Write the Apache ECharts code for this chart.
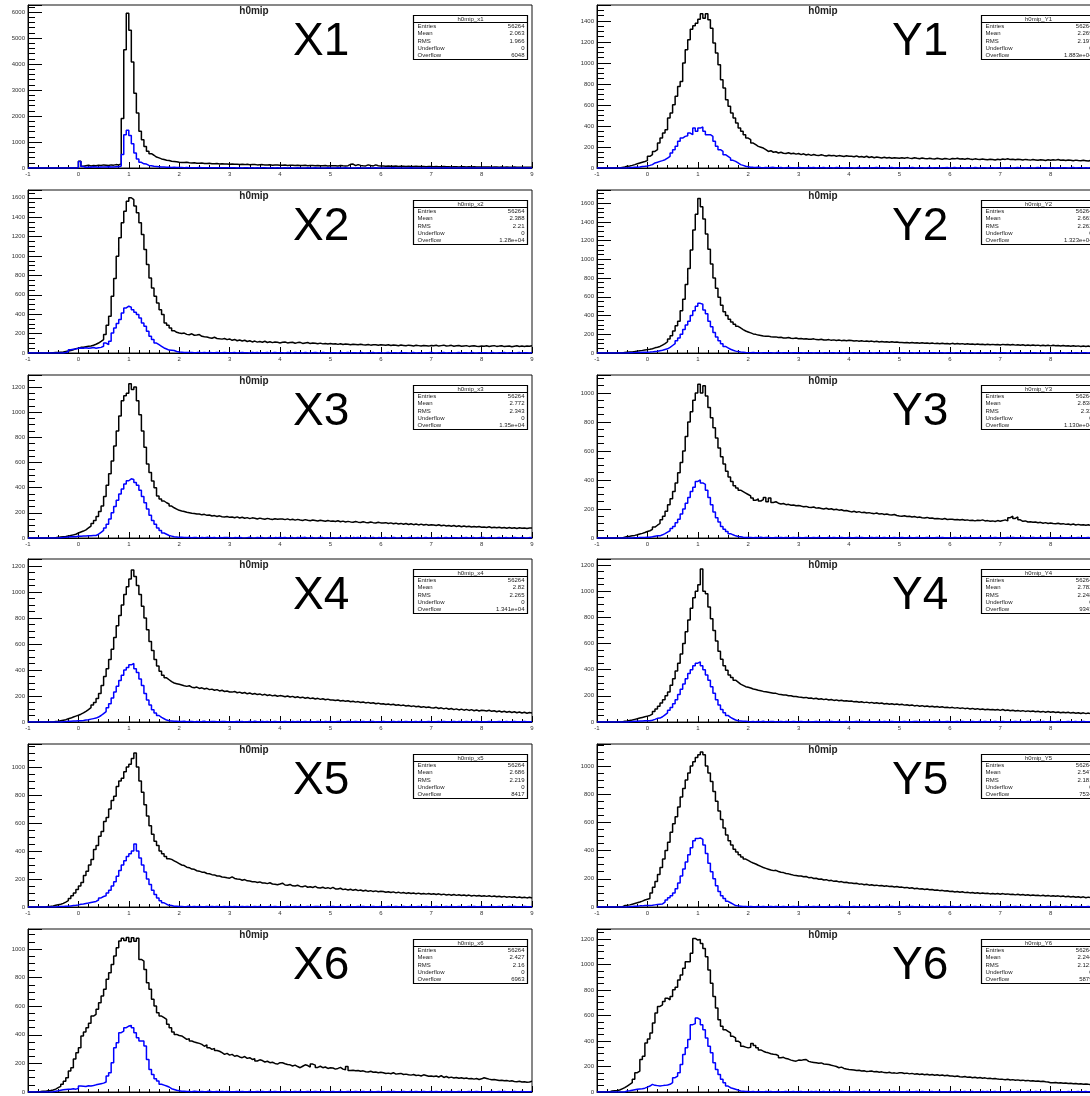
<!DOCTYPE html>
<html>
<head>
<meta charset="utf-8">
<script src="https://cdn.jsdelivr.net/npm/echarts@6/dist/echarts.min.js"></script>
<style>
html,body{margin:0;padding:0;background:#fff;}
#main{width:1090px;height:1096px;}
</style>
</head>
<body>
<div id="main"></div>
<script>
// h0mip distributions, 200 bins of width 0.05 on [-1, 9]
const binLow = -1;
const binWidth = 0.05;

const panelNames = ['X1','X2','X3','X4','X5','X6','Y1','Y2','Y3','Y4','Y5','Y6'];
const histNames = ['h0mip_x1','h0mip_x2','h0mip_x3','h0mip_x4','h0mip_x5','h0mip_x6',
                   'h0mip_Y1','h0mip_Y2','h0mip_Y3','h0mip_Y4','h0mip_Y5','h0mip_Y6'];
const statEntries = ['56264','56264','56264','56264','56264','56264','56264','56264','56264','56264','56264','56264'];
const statMean = ['2.063','2.388','2.772','2.82','2.686','2.427','2.269','2.663','2.838','2.782','2.547','2.244'];
const statRms = ['1.966','2.21','2.343','2.265','2.219','2.16','2.197','2.262','2.32','2.248','2.181','2.121'];
const statUnderflow = ['0','0','0','0','0','0','0','0','0','0','0','0'];
const statOverflow = ['6048','1.28e+04','1.35e+04','1.341e+04','8417','6963','1.883e+04','1.323e+04','1.130e+04','9343','7534','5879'];

// y ranges and label steps
const yMax = [6270,1680,1295,1254,1164,1140,1552,1740,1124,1246,1156,1278];
const yStep = [1000,200,200,200,200,200,200,200,200,200,200,200];
const yMinor = [5,4,4,4,4,4,4,4,4,4,4,4];

const x1Black = [
0,0,0,0,0,0,0,0,0,0,0,0,0,0,0,0,0,0,0,5,
260,70,90,110,80,100,90,110,100,120,110,100,120,110,130,120,160,1900,4550,5950,
5300,4080,2880,2120,1410,1090,830,640,550,490,420,390,350,330,300,290,260,250,240,225,
215,210,220,200,190,205,185,180,190,175,170,180,165,160,170,155,160,150,155,145,
150,140,145,135,140,130,145,125,130,135,120,125,130,115,120,125,110,115,120,110,
105,115,100,110,105,95,110,100,95,105,90,100,95,85,100,90,85,95,80,90,
85,90,80,95,85,80,90,140,150,90,130,100,85,80,120,95,80,120,90,75,
80,70,75,65,70,75,60,70,65,60,70,55,60,65,55,60,55,50,60,55,
50,55,45,50,55,45,50,40,50,45,40,50,45,40,45,35,45,40,35,40,
40,35,40,30,35,40,30,35,30,35,30,25,35,30,25,30,25,30,25,30];
const x1Blue = [
0,0,0,0,0,0,0,0,0,0,0,0,0,0,0,0,0,0,0,10,
250,60,20,40,30,50,40,30,40,35,40,45,35,40,50,45,80,520,1280,1450,
1250,930,580,350,220,160,150,100,90,70,60,50,40,35,30,25,20,25,15,20,
15,10,15,10,12,8,10,15,8,10,6,12,8,5,10,6,8,5,10,6,
5,8,4,6,3,7,5,2,6,4,8,3,5,6,2,4,7,3,5,4,
3,5,2,6,4,1,5,3,2,4,6,2,3,5,1,4,2,3,6,2,
4,2,5,1,3,6,2,4,3,1,5,2,4,3,6,1,2,5,3,2,
2,4,1,3,5,2,3,1,4,2,3,5,1,2,4,3,1,2,5,3,
3,1,2,4,2,5,1,3,2,4,1,3,2,1,4,2,3,1,2,3,
1,3,2,2,4,1,2,3,1,2,4,1,3,2,1,3,2,4,1,2];

const x2Black = [
0,0,0,0,0,0,0,0,0,3,5,4,8,10,15,20,25,34,45,50,
58,60,65,70,72,80,90,103,120,138,190,285,378,585,767,998,1187,1342,1462,1565,
1600,1580,1514,1445,1342,1221,1066,912,774,671,585,516,447,396,310,285,258,230,213,206,
200,205,192,188,198,183,185,190,172,168,165,158,152,162,150,146,143,150,138,145,
131,140,126,134,124,131,119,126,114,123,112,118,111,121,108,116,107,113,110,104,
110,113,104,108,111,101,107,110,99,104,108,97,103,100,95,102,94,98,93,97,
92,96,89,96,87,92,90,85,91,88,84,90,86,83,88,81,86,84,79,85,
82,79,85,77,82,80,75,82,78,74,81,77,73,79,76,72,78,75,71,77,
74,79,71,76,81,72,75,79,70,74,77,69,73,76,68,72,75,70,67,72,
70,74,67,72,76,68,71,75,66,70,73,65,70,74,67,71,68,73,70,75];
const x2Blue = [
0,0,0,0,0,0,0,0,0,0,0,0,0,0,5,12,34,38,42,48,
52,50,55,48,52,56,50,54,58,69,103,86,120,206,258,303,344,413,464,482,
471,447,420,396,361,310,275,224,172,138,103,86,69,52,41,30,28,26,15,10,
8,5,6,4,5,3,4,6,2,4,3,5,2,3,4,2,3,5,2,3,
2,4,1,3,5,2,3,1,4,2,6,1,3,2,4,1,2,5,3,2,
3,1,4,2,1,5,2,3,1,4,2,1,3,5,2,1,4,2,3,1,
2,3,1,4,2,3,5,1,2,3,1,4,2,1,3,2,4,1,2,3,
1,2,4,1,3,2,1,5,2,3,1,2,4,1,3,2,1,3,2,4,
2,1,3,2,4,1,2,3,1,2,5,1,3,2,1,4,2,1,3,2,
3,2,1,4,2,1,3,2,4,1,2,3,1,2,4,1,3,2,1,3];

const x3Black = [
0,0,0,0,0,0,0,0,0,0,3,5,8,10,12,15,20,25,30,40,
48,55,65,80,95,115,140,170,210,254,330,420,510,612,730,850,970,1090,1130,1150,
1225,1180,1200,1090,980,850,720,588,520,453,400,334,310,294,280,270,254,240,230,220,
215,211,204,201,197,195,190,191,184,188,180,183,175,178,171,176,169,167,171,164,
167,161,168,159,165,157,162,154,160,157,151,158,153,149,156,151,147,153,149,151,
151,146,152,144,149,142,148,143,139,146,141,137,143,139,135,141,137,133,139,134,
135,131,137,129,134,127,132,128,125,131,126,123,129,124,121,127,122,119,125,120,
119,122,115,120,113,118,111,116,109,115,107,113,106,111,104,110,103,108,102,106,
103,99,105,97,102,95,100,94,99,92,97,90,95,89,94,88,92,87,91,86,
87,84,89,82,86,81,85,79,84,78,83,77,82,76,81,77,80,75,79,80];
const x3Blue = [
0,0,0,0,0,0,0,0,0,0,0,0,2,4,5,8,10,12,10,15,
14,16,15,18,17,20,20,30,45,60,80,110,150,200,250,300,350,390,430,455,
470,465,440,420,380,330,280,230,180,140,110,80,60,40,30,20,15,10,8,5,
6,4,3,5,2,4,3,1,4,2,5,3,2,4,1,3,2,4,3,2,
1,3,2,4,2,1,3,5,2,1,4,2,3,1,2,4,1,3,2,3,
2,4,1,2,3,1,4,2,3,5,1,2,3,1,2,4,3,1,2,1,
3,1,2,4,1,3,2,1,3,2,4,1,2,3,1,2,5,1,3,2,
2,3,1,2,4,2,1,3,2,1,3,4,1,2,3,1,2,4,1,2,
1,2,3,1,2,4,1,3,2,2,1,3,2,4,1,2,3,1,2,3,
3,1,2,3,1,2,4,1,2,3,1,2,3,2,1,4,2,1,3,2];

const x4Black = [
0,0,0,0,0,0,0,0,0,0,4,6,10,14,18,25,30,38,45,52,
60,70,82,95,110,130,150,180,220,280,350,410,480,560,650,740,820,900,980,1040,
1100,1170,1120,1050,980,890,800,710,620,550,480,430,390,360,340,325,310,300,295,290,
285,279,274,279,268,264,269,258,263,254,259,249,253,244,249,239,244,235,239,231,
230,235,225,230,221,227,217,223,214,219,211,216,207,213,204,209,201,206,198,203,
200,195,200,192,197,189,194,186,191,183,188,180,185,177,182,174,179,171,176,169,
170,165,169,162,166,159,163,156,160,153,157,150,154,147,151,144,148,141,145,139,
140,135,139,132,136,129,133,126,130,123,127,120,124,117,121,114,118,111,115,109,
108,113,104,109,101,107,98,104,95,101,93,99,91,97,89,95,87,93,85,91,
88,84,90,82,87,79,85,77,83,75,81,73,79,71,77,69,75,67,73,70];
const x4Blue = [
0,0,0,0,0,0,0,0,0,0,0,0,0,2,3,5,6,8,8,10,
10,12,15,18,22,26,30,38,50,65,80,110,140,185,230,275,320,360,400,420,
440,450,410,380,330,280,220,170,130,95,70,50,35,25,15,10,8,6,5,4,
3,5,2,4,3,1,4,2,3,5,1,2,4,3,1,2,3,4,2,1,
2,1,3,2,4,1,2,3,1,5,2,1,3,2,4,1,2,3,1,2,
1,3,2,1,4,2,3,1,2,3,1,4,2,1,3,2,1,4,2,3,
2,1,3,4,1,2,3,1,2,4,2,1,3,2,1,3,4,1,2,1,
3,2,1,2,3,1,4,2,1,3,2,1,2,4,1,3,2,1,3,2,
1,2,4,1,3,2,1,2,3,1,4,2,1,3,2,1,2,3,1,2,
2,1,3,2,1,2,3,1,2,4,1,2,3,1,2,1,3,2,1,2];

const x5Black = [
0,0,0,0,0,0,0,3,5,8,12,16,20,26,35,45,60,80,100,125,
150,175,225,255,300,340,410,440,505,540,610,640,700,760,790,860,900,920,965,1000,
1020,1060,1100,1000,900,820,730,650,580,520,470,440,400,380,360,345,340,330,320,310,
300,296,284,281,271,269,259,256,249,248,239,237,231,229,221,221,214,213,209,206,
215,204,200,199,191,196,187,186,181,181,175,179,171,171,167,173,164,163,159,164,
170,157,155,161,151,150,155,147,145,151,141,145,139,147,137,136,141,133,138,131,
140,129,128,134,124,128,121,127,119,125,117,121,114,120,112,117,110,115,109,113,
110,105,109,103,108,101,106,99,104,97,102,96,100,94,99,93,97,92,96,91,
95,89,94,87,92,86,90,84,89,83,87,82,86,80,85,79,83,78,82,77,
80,76,80,74,79,73,77,71,76,70,74,69,73,67,71,66,70,65,69,64];
const x5Blue = [
0,0,0,0,0,0,0,0,0,0,0,2,3,4,5,6,8,10,12,15,
20,22,25,28,32,36,40,50,65,75,80,100,120,150,180,220,260,300,330,360,
380,400,450,400,350,300,250,200,160,120,90,65,45,30,20,12,10,6,5,3,
4,2,3,5,1,3,2,4,2,1,3,2,4,1,3,2,1,3,2,4,
1,3,2,1,4,2,3,1,2,4,1,3,2,2,1,4,2,3,1,2,
2,1,3,2,1,3,2,4,1,2,3,1,2,3,4,1,2,1,3,2,
3,2,1,4,2,1,3,2,1,2,4,1,3,2,1,2,3,1,2,4,
1,2,3,1,2,4,1,2,3,2,1,3,1,2,4,2,1,3,2,1,
2,3,1,2,1,3,2,4,1,2,3,1,2,1,3,2,4,1,2,3,
1,2,1,3,2,1,3,2,1,2,3,1,4,2,1,2,3,1,2,2];

const x6Black = [
0,0,0,2,3,5,6,8,10,14,20,30,40,54,75,100,147,170,230,275,
310,392,420,450,480,531,543,578,624,671,718,788,834,892,951,1009,1056,1075,1060,1080,
1050,1078,1055,1075,927,916,857,764,718,648,601,555,531,520,508,473,450,420,403,395,
392,380,368,372,357,350,345,340,333,320,330,310,298,305,290,285,275,263,270,258,
263,250,255,245,240,248,235,240,228,232,217,225,220,210,215,205,208,200,195,205,
205,198,192,190,182,188,178,170,180,190,185,175,195,188,172,180,170,175,165,170,
168,160,165,172,160,155,178,150,152,148,150,145,148,142,140,145,138,140,135,138,
135,130,132,128,135,125,128,130,122,125,120,118,122,115,118,112,120,115,110,112,
108,112,105,115,102,108,100,104,98,102,96,100,95,98,92,95,90,94,88,92,
100,95,90,86,88,84,80,82,78,80,76,78,74,72,75,70,72,68,70,75];
const x6Blue = [
0,0,0,0,0,0,0,0,0,2,5,8,12,15,18,20,19,22,20,25,
42,40,38,44,42,45,50,54,58,62,70,112,135,205,310,345,415,426,450,461,
466,450,415,380,357,357,322,228,158,123,93,77,54,48,42,35,23,18,12,8,
5,6,3,4,2,5,3,1,4,2,3,5,2,1,3,2,4,1,3,2,
2,1,3,2,4,1,2,3,1,2,4,1,3,2,1,3,2,4,1,2,
1,3,2,1,2,4,1,3,2,1,3,2,1,4,2,1,3,2,2,1,
3,2,1,3,1,2,4,1,2,3,1,2,3,1,2,4,1,2,3,1,
2,1,3,2,4,1,2,1,3,2,1,3,2,4,1,2,3,1,2,3,
1,3,2,1,2,3,1,4,2,1,3,2,1,2,3,1,2,4,1,2,
2,1,2,3,1,2,4,1,3,2,1,2,3,1,2,3,1,2,1,3];

const y1Black = [
0,0,0,0,0,0,0,0,0,5,10,16,20,25,32,40,48,55,62,70,
111,127,158,174,238,285,333,365,476,523,602,682,777,824,1000,1125,1220,1322,1354,1379,
1417,1468,1427,1468,1411,1331,1189,1094,983,840,761,650,587,523,476,428,380,349,317,285,
270,238,222,206,198,190,175,158,165,150,155,143,150,140,138,145,136,140,132,138,
127,135,124,130,120,128,122,118,126,120,115,122,117,120,112,118,114,110,116,112,
111,108,115,105,110,103,112,100,107,98,104,100,96,102,95,100,93,98,95,92,
97,92,99,94,90,97,92,88,95,90,87,93,89,86,92,88,84,90,87,82,
91,87,93,85,89,83,90,85,81,87,83,80,85,82,79,84,81,77,83,79,
85,82,88,80,84,78,83,80,76,82,78,75,80,77,74,79,76,72,78,74,
78,75,81,73,77,71,76,73,69,75,71,68,73,70,67,72,69,65,71,68];
const y1Blue = [
0,0,0,0,0,0,0,0,0,0,0,0,2,4,6,8,10,14,16,20,
25,32,48,55,63,70,79,95,111,143,174,206,254,285,301,307,333,317,380,349,
380,390,349,317,317,301,254,206,174,158,127,111,95,73,63,48,32,25,16,12,
8,6,5,7,4,3,5,2,4,6,3,2,4,1,3,5,2,3,1,4,
2,3,1,4,2,5,1,3,2,4,1,2,3,1,4,2,3,1,2,3,
3,1,2,4,1,3,2,1,3,2,5,1,2,3,1,2,4,1,3,2,
1,2,3,1,4,2,1,3,2,1,2,4,1,3,2,1,3,2,4,1,
2,4,1,2,3,1,2,3,1,4,2,1,3,2,1,2,3,1,2,3,
1,2,3,2,1,3,4,1,2,1,3,2,1,2,4,1,2,3,1,2,
3,1,2,1,3,2,1,2,4,1,2,3,1,2,1,3,2,1,2,3];

const y2Black = [
0,0,0,0,0,0,0,0,0,0,5,8,10,12,15,20,25,28,32,36,
40,45,55,62,70,85,100,120,150,185,236,290,339,450,575,730,903,1100,1313,1480,
1650,1560,1430,1270,1108,950,800,690,595,510,441,400,359,330,308,285,267,250,235,225,
215,204,199,191,187,181,179,180,173,171,172,165,169,161,160,165,157,156,161,153,
154,149,153,147,146,151,143,142,147,139,138,143,135,140,133,138,132,136,130,135,
133,128,132,126,131,124,129,122,127,120,125,118,123,117,121,115,120,114,118,112,
113,109,113,107,112,106,110,104,109,103,107,102,106,100,105,99,103,98,102,96,
103,97,101,95,100,94,98,93,97,91,96,90,94,89,93,88,92,87,91,86,
92,87,91,85,90,84,88,83,87,81,86,80,85,79,84,78,83,77,82,76,
82,77,81,75,80,74,78,73,77,71,76,70,75,69,74,68,73,67,72,73];
const y2Blue = [
0,0,0,0,0,0,0,0,0,0,0,0,2,3,4,5,6,7,8,9,
10,12,15,18,25,30,38,45,60,80,100,130,160,200,250,300,340,400,450,500,
530,520,460,420,340,280,220,170,130,100,70,55,40,30,20,15,10,8,5,4,
3,5,2,4,1,3,2,4,3,1,2,5,1,3,2,4,1,2,3,2,
2,1,3,2,4,1,3,2,1,2,4,1,3,2,1,3,2,1,4,2,
1,3,2,1,2,3,1,4,2,1,3,2,4,1,2,3,1,2,3,1,
3,2,1,2,4,1,2,3,1,2,1,3,2,4,1,2,3,1,2,3,
1,2,4,1,3,2,1,2,3,1,4,2,1,2,3,1,2,4,1,2,
2,3,1,2,1,3,2,4,1,2,3,1,2,3,1,2,4,1,3,2,
1,2,3,1,2,1,3,2,1,4,2,1,3,2,1,2,3,1,2,1];

const y3Black = [
0,0,0,0,0,0,0,0,0,0,6,10,12,15,18,22,28,32,38,45,
50,60,75,88,100,125,150,185,230,270,320,380,450,520,600,700,800,870,950,1000,
1060,1000,1050,980,900,830,760,690,620,560,510,460,420,390,360,345,330,320,310,300,
290,275,260,270,255,265,280,250,275,245,250,240,235,238,230,232,226,228,222,224,
220,215,218,212,210,214,206,208,204,200,205,198,202,195,198,192,195,188,190,185,
180,184,178,182,175,178,172,175,170,168,172,165,168,162,165,160,158,162,155,152,
150,154,148,150,145,148,142,145,140,138,142,136,138,133,135,132,130,134,128,130,
130,126,128,124,127,122,125,120,123,118,122,120,125,118,120,115,118,114,120,116,
120,125,118,140,150,135,145,125,115,118,110,112,108,110,105,108,102,106,100,104,
100,98,102,96,99,94,97,92,96,90,94,89,92,88,91,87,90,86,89,90];
const y3Blue = [
0,0,0,0,0,0,0,0,0,0,0,0,0,0,1,2,3,3,4,5,
5,8,12,15,15,22,30,40,50,65,80,105,130,165,200,240,280,320,350,390,
400,380,370,330,280,230,180,140,110,80,60,45,30,22,15,10,8,5,4,3,
4,2,3,1,5,2,3,4,1,2,3,1,4,2,3,1,2,4,1,3,
2,1,3,2,1,4,2,3,1,2,1,3,2,4,1,2,3,1,2,3,
1,2,4,1,3,2,1,2,3,1,4,2,1,3,2,1,2,3,1,2,
3,1,2,3,1,2,4,1,2,1,3,2,1,2,4,1,3,2,1,2,
1,3,2,1,2,3,1,4,2,1,2,3,1,2,1,3,2,4,1,2,
2,1,3,2,4,1,2,1,3,2,1,2,4,1,2,3,1,2,3,1,
1,2,1,3,2,1,2,3,1,2,4,1,2,1,3,2,1,2,3,2];

const y4Black = [
0,0,0,0,0,0,0,0,0,0,5,8,12,15,20,25,30,35,40,45,
50,60,80,100,120,145,170,200,230,280,330,390,450,520,600,690,780,870,950,1000,
1050,1170,1000,980,880,790,700,620,540,480,430,395,360,340,320,305,290,280,270,265,
260,252,249,243,239,234,231,227,223,219,219,213,211,207,206,201,201,195,195,191,
190,186,188,181,184,177,181,174,178,171,175,168,172,165,169,162,166,160,163,158,
160,154,157,151,155,148,152,146,150,143,147,141,145,138,142,136,140,134,137,132,
135,129,132,126,130,123,127,121,125,118,122,116,120,114,118,112,116,110,113,108,
112,106,110,104,108,102,106,100,104,98,102,96,100,94,98,93,96,91,95,89,
95,88,92,86,90,84,88,83,87,81,85,80,84,78,82,77,81,75,80,74,
78,73,77,71,75,70,74,68,72,67,71,65,70,64,68,63,67,62,66,68];
const y4Blue = [
0,0,0,0,0,0,0,0,0,0,0,0,2,3,5,6,8,8,10,10,
10,14,20,28,30,40,55,70,90,110,140,170,210,250,290,330,370,400,430,450,
460,430,400,360,320,270,220,170,130,95,70,50,35,25,15,10,8,6,5,3,
2,4,1,3,2,5,1,2,3,4,1,2,3,1,4,2,1,3,2,1,
3,1,2,4,1,2,3,1,2,1,4,2,3,1,2,3,1,2,4,1,
1,2,3,1,4,2,1,3,2,1,2,3,1,4,2,1,3,2,1,2,
2,3,1,2,1,3,4,1,2,3,1,2,1,3,2,4,1,2,3,1,
1,2,4,1,3,2,1,2,3,1,2,4,1,3,2,1,2,3,1,2,
3,1,2,1,2,3,1,4,2,1,3,2,1,2,3,1,4,2,1,3,
2,1,3,2,1,2,3,1,2,4,1,2,3,1,2,1,3,2,1,2];

const y5Black = [
0,0,0,0,0,0,0,0,0,0,10,12,15,20,25,30,35,42,50,55,
60,100,140,180,230,280,340,400,460,530,590,640,710,780,840,900,950,1000,1030,1060,
1080,1100,1080,1000,950,890,820,750,680,620,560,510,470,440,410,390,370,355,340,330,
320,312,305,296,288,280,274,268,262,258,260,252,246,244,238,235,230,226,224,220,
220,214,216,208,210,202,204,197,199,192,194,187,189,182,184,178,180,174,176,170,
170,166,168,162,164,158,161,155,158,152,155,150,152,147,150,145,147,142,145,140,
141,136,139,133,136,130,133,127,130,124,127,122,124,119,121,116,118,113,115,110,
112,107,110,104,108,102,105,100,103,98,101,96,99,95,97,93,96,92,95,91,
95,90,93,88,91,86,90,85,88,84,87,82,85,81,84,79,83,78,81,77,
80,76,79,74,78,72,76,71,75,69,73,68,72,66,70,65,69,64,68,66];
const y5Blue = [
0,0,0,0,0,0,0,0,0,0,0,0,2,4,5,6,8,8,10,10,
10,12,15,18,20,22,35,50,65,80,100,130,170,220,270,320,370,420,470,485,
490,480,440,380,310,250,200,150,110,80,60,40,30,20,10,8,6,4,3,2,
3,1,2,4,1,3,2,1,3,2,4,1,2,3,1,2,1,4,2,3,
1,2,3,1,2,4,1,3,2,1,2,3,1,2,4,1,3,2,1,2,
2,3,1,2,1,3,2,4,1,2,3,1,2,1,3,2,4,1,2,3,
1,2,4,1,3,2,1,2,3,1,2,1,4,2,3,1,2,3,1,2,
3,1,2,3,1,2,4,1,2,3,1,2,3,1,2,1,3,2,4,1,
2,1,3,2,1,4,2,1,3,2,1,3,2,1,2,3,1,2,3,1,
1,3,2,1,2,3,1,2,1,3,2,4,1,2,3,1,2,1,3,2];

const y6Black = [
0,0,0,0,0,8,10,12,16,25,34,47,60,73,99,151,164,255,281,385,
416,463,541,619,671,684,710,736,723,749,801,822,879,918,970,1022,1022,1087,1204,1191,
1196,1165,1126,1061,957,853,749,658,567,515,489,476,463,437,424,398,385,359,352,346,
350,380,364,346,330,320,312,307,300,296,294,285,268,272,262,258,250,245,242,250,
248,252,255,240,235,232,229,225,228,220,218,216,210,205,200,190,195,185,180,177,
175,172,168,170,164,166,160,162,165,158,160,155,158,152,150,155,148,150,146,151,
151,145,148,142,146,140,143,138,141,136,139,134,137,132,135,130,133,128,131,125,
125,122,126,120,118,122,115,118,112,116,110,113,108,111,105,108,103,106,101,99,
99,96,100,94,97,92,95,90,93,88,91,86,89,84,87,82,85,80,78,73,
73,75,70,72,68,70,66,68,64,66,62,64,60,63,60,58,62,60,65,62];
const y6Blue = [
0,0,0,0,0,0,0,0,0,0,0,8,10,14,18,21,24,26,30,38,
47,60,52,50,47,50,52,55,60,73,112,125,151,216,294,346,411,528,536,580,
567,528,489,424,359,307,229,177,138,99,73,47,34,28,21,15,8,6,4,3,
2,4,1,3,2,1,3,2,4,1,2,3,1,2,4,1,2,3,1,2,
3,1,2,1,3,2,4,1,2,3,1,2,1,3,2,1,4,2,1,3,
1,2,3,1,2,4,1,3,2,1,2,3,1,2,1,3,2,4,1,2,
2,1,3,2,1,2,3,1,4,2,1,2,3,1,2,3,1,2,1,3,
1,3,2,1,2,4,1,2,3,1,2,1,3,2,4,1,2,3,1,2,
2,1,2,3,1,2,3,1,2,1,4,2,1,3,2,1,2,3,1,2,
1,2,3,1,2,1,3,2,1,2,3,1,2,4,1,2,1,3,2,1];

const blackSeries = [x1Black,x2Black,x3Black,x4Black,x5Black,x6Black,y1Black,y2Black,y3Black,y4Black,y5Black,y6Black];
const blueSeries = [x1Blue,x2Blue,x3Blue,x4Blue,x5Blue,x6Blue,y1Blue,y2Blue,y3Blue,y4Blue,y5Blue,y6Blue];

// bin contents -> points at bin low edges, closed at the upper edge of the last bin
function toSteps(vals) {
  const pts = vals.map((v, k) => [+(binLow + k * binWidth).toFixed(2), v]);
  pts.push([+(binLow + vals.length * binWidth).toFixed(2), vals[vals.length - 1]]);
  return pts;
}

const FONT = '"Liberation Sans", Arial, Helvetica, sans-serif';
const grids = [], xAxes = [], yAxes = [], series = [], graphics = [];

panelNames.forEach((name, i) => {
  const col = i < 6 ? 0 : 1;
  const row = i % 6;
  const left = col ? 597 : 28;
  const top = Math.round(5 + row * 184.8);
  const step = yStep[i];

  grids.push({
    left: left, top: top, width: 504, height: 163,
    show: true, borderColor: '#111', borderWidth: 1,
    backgroundColor: 'transparent', containLabel: false, outerBoundsMode: 'none'
  });

  xAxes.push({
    gridIndex: i, type: 'value', min: -1, max: 9, interval: 1,
    axisLine: { show: true, onZero: false, lineStyle: { color: '#000', width: 1 } },
    axisTick: { show: true, inside: true, length: 6, lineStyle: { color: '#000', width: 1 } },
    minorTick: { show: true, splitNumber: 5, length: 3, lineStyle: { color: '#000', width: 1 } },
    axisLabel: { show: true, fontSize: 6, color: '#333', margin: 3, fontFamily: FONT,
                 showMinLabel: true, showMaxLabel: true, hideOverlap: false },
    splitLine: { show: false }, minorSplitLine: { show: false }
  });

  yAxes.push({
    gridIndex: i, type: 'value', min: 0, max: yMax[i], interval: step,
    axisLine: { show: true, onZero: false, lineStyle: { color: '#000', width: 1 } },
    axisTick: { show: true, inside: true, length: 14, lineStyle: { color: '#000', width: 1 } },
    minorTick: { show: true, splitNumber: yMinor[i], length: 7, lineStyle: { color: '#000', width: 1 } },
    axisLabel: { show: true, fontSize: 6, color: '#333', margin: 3, fontFamily: FONT,
                 showMaxLabel: false, hideOverlap: false,
                 formatter: v => (Math.abs(v % step) < 1e-6 ? String(v) : '') },
    splitLine: { show: false }, minorSplitLine: { show: false }
  });

  series.push({
    type: 'line', xAxisIndex: i, yAxisIndex: i, step: 'end', symbol: 'none',
    data: toSteps(blackSeries[i]), animation: false, z: 2,
    lineStyle: { color: '#000', width: 1.5 }
  });
  series.push({
    type: 'line', xAxisIndex: i, yAxisIndex: i, step: 'end', symbol: 'none',
    data: toSteps(blueSeries[i]), animation: false, z: 3,
    lineStyle: { color: '#0000ff', width: 1.5 }
  });

  // histogram title
  graphics.push({
    type: 'text', x: left + 226, y: top + 6, z: 20,
    style: { text: 'h0mip', font: 'bold 10px ' + FONT, fill: '#222',
             align: 'center', textAlign: 'center', verticalAlign: 'middle', textVerticalAlign: 'middle' }
  });

  // plane label
  graphics.push({
    type: 'text', x: col ? 892 : 293, y: top + 37, z: 20,
    style: { text: name, font: '46px ' + FONT, fill: '#000',
             align: 'left', textAlign: 'left', verticalAlign: 'middle', textVerticalAlign: 'middle' }
  });

  // statistics box
  const bx = (col ? 981 : 413) + 0.5;
  const by = top + 10 + 0.5;
  const bw = 114, bh = 44;
  graphics.push({ type: 'rect', z: 30, shape: { x: bx, y: by, width: bw, height: bh },
                  style: { fill: '#fff', stroke: '#000', lineWidth: 1.2 } });
  graphics.push({ type: 'line', z: 31, shape: { x1: bx, y1: by + 7, x2: bx + bw, y2: by + 7 },
                  style: { stroke: '#000', lineWidth: 1 } });
  graphics.push({ type: 'text', z: 32, x: bx + bw / 2, y: by + 3.7,
                  style: { text: histNames[i], font: '6px ' + FONT, fill: '#222',
                           align: 'center', textAlign: 'center', verticalAlign: 'middle', textVerticalAlign: 'middle' } });
  const rowsL = ['Entries', 'Mean', 'RMS', 'Underflow', 'Overflow'];
  const rowsR = [statEntries[i], statMean[i], statRms[i], statUnderflow[i], statOverflow[i]];
  rowsL.forEach((lab, r) => {
    const yy = by + 10.7 + r * 7.4;
    graphics.push({ type: 'text', z: 32, x: bx + 4, y: yy,
                    style: { text: lab, font: '6px ' + FONT, fill: '#222',
                             align: 'left', textAlign: 'left', verticalAlign: 'middle', textVerticalAlign: 'middle' } });
    graphics.push({ type: 'text', z: 32, x: bx + bw - 3, y: yy,
                    style: { text: rowsR[r], font: '6px ' + FONT, fill: '#222',
                             align: 'right', textAlign: 'right', verticalAlign: 'middle', textVerticalAlign: 'middle' } });
  });
});

const chart = echarts.init(document.getElementById('main'), null, { renderer: 'canvas', width: 1090, height: 1096 });
chart.setOption({
  animation: false,
  backgroundColor: '#fff',
  grid: grids,
  xAxis: xAxes,
  yAxis: yAxes,
  series: series,
  graphic: graphics
});
</script>
</body>
</html>
